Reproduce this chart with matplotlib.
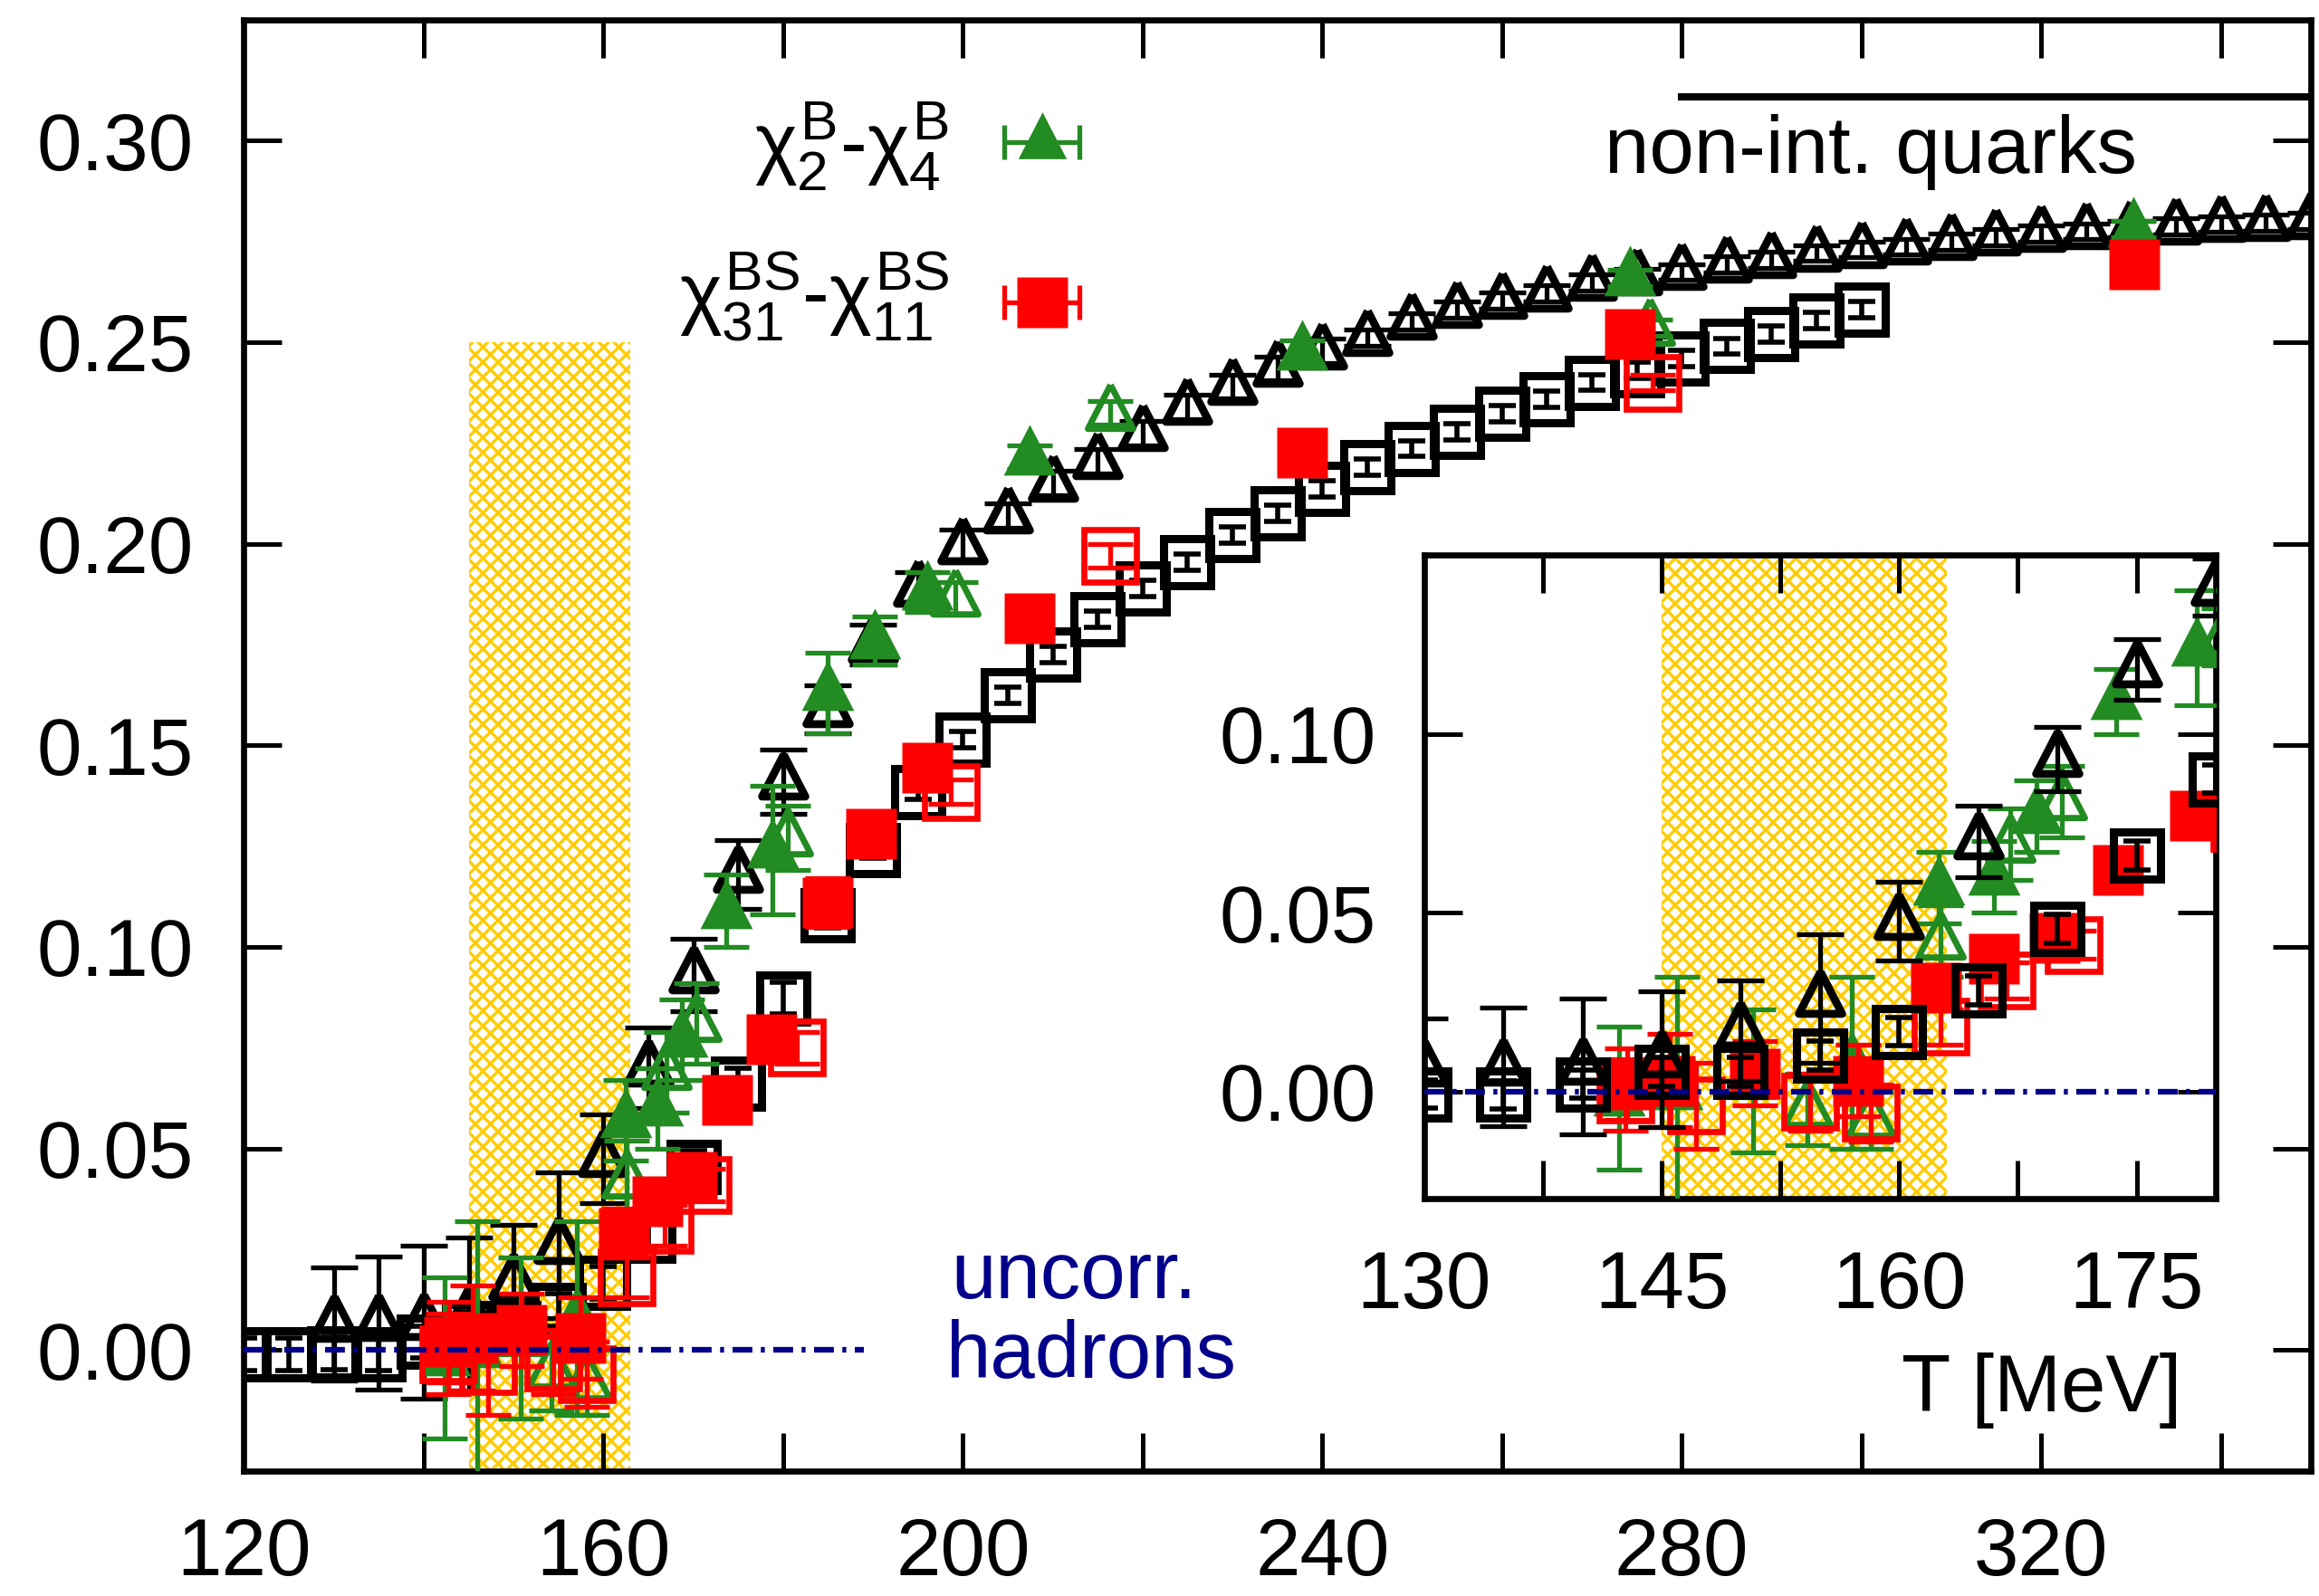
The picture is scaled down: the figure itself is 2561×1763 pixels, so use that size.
import numpy as np
import matplotlib
matplotlib.use('Agg')
import matplotlib.pyplot as plt
from matplotlib.markers import MarkerStyle
from matplotlib.ticker import FixedLocator, FormatStrFormatter

plt.rcParams['font.family'] = ['Liberation Sans', 'DejaVu Sans']
plt.rcParams['mathtext.fontset'] = 'custom'
plt.rcParams['mathtext.rm'] = 'Liberation Sans'
plt.rcParams['mathtext.it'] = 'Liberation Sans'
plt.rcParams['mathtext.bf'] = 'Liberation Sans:bold'
plt.rcParams['hatch.linewidth'] = 2.4

# ---------------- data ----------------
# chi2B - chi4B, black open triangles
tri_T = [130, 135, 140, 145, 150, 155, 160, 165, 170, 175, 180, 185, 190, 195, 200,
         205, 210, 215, 220, 225, 230, 235, 240, 245, 250, 255, 260, 265, 270, 275,
         280, 285, 290, 295, 300, 305, 310, 315, 320, 325, 330, 335, 340, 345, 350]
tri_val = [0.0065, 0.0068, 0.0070, 0.0090, 0.0170, 0.0260, 0.0475, 0.0700, 0.0930, 0.1180,
           0.1410, 0.1590, 0.1750, 0.1890, 0.1995, 0.2070, 0.2150, 0.2205, 0.2275, 0.2340,
           0.2390, 0.2435, 0.2478, 0.2512, 0.2552, 0.2580, 0.2603, 0.2621, 0.2648, 0.2662,
           0.2674, 0.2693, 0.2704, 0.2721, 0.2730, 0.2737, 0.2749, 0.2760, 0.2769, 0.2775,
           0.2780, 0.2788, 0.2793, 0.2797, 0.2801]
tri_err = [0.014, 0.0165, 0.019, 0.019, 0.014, 0.018, 0.011, 0.010, 0.009, 0.0085,
           0.008, 0.006, 0.005, 0.004, 0.004, 0.003, 0.003, 0.003, 0.003, 0.003,
           0.003, 0.003, 0.003, 0.002, 0.002, 0.002, 0.002, 0.002, 0.002, 0.002,
           0.002, 0.002, 0.002, 0.002, 0.002, 0.002, 0.002, 0.002, 0.002, 0.002,
           0.002, 0.002, 0.002, 0.002, 0.002]

# chi31BS - chi11BS, black open squares
sq_T = [120, 125, 130, 135, 140, 145, 150, 155, 160, 165, 170, 175, 180, 185, 190,
        195, 200, 205, 210, 215, 220, 225, 230, 235, 240, 245, 250, 255, 260, 265,
        270, 275, 280, 285, 290, 295, 300]
sq_val = [-0.0010, -0.0010, -0.0008, -0.0010, 0.0020, 0.0055, 0.0055, 0.0100, 0.0167, 0.0283,
          0.0455, 0.0660, 0.0873, 0.1078, 0.1240, 0.1385, 0.1515, 0.1625, 0.1725, 0.1813,
          0.1890, 0.1955, 0.2022, 0.2075, 0.2137, 0.2190, 0.2236, 0.2277, 0.2322, 0.2359,
          0.2400, 0.2430, 0.2460, 0.2490, 0.2520, 0.2554, 0.2580]
sq_err = [0.004, 0.004, 0.004, 0.004, 0.004, 0.004, 0.004, 0.004, 0.004, 0.004,
          0.004, 0.004, 0.004, 0.003, 0.002, 0.002, 0.002, 0.002, 0.002, 0.002,
          0.002, 0.002, 0.002, 0.002, 0.002, 0.002, 0.002, 0.002, 0.002, 0.002,
          0.002, 0.002, 0.002, 0.002, 0.002, 0.002, 0.002]

# lattice chi2B - chi4B, green filled triangles
gf_T = [142.3, 146.0, 157.0, 162.5, 166.0, 168.7, 173.7, 178.8, 185.0, 190.2, 196.0,
        207.4, 237.8, 274.2, 330.3]
gf_val = [-0.002, 0.000, 0.008, 0.057, 0.060, 0.077, 0.109, 0.124, 0.163, 0.176, 0.188,
          0.2215, 0.2475, 0.266, 0.278]
gf_err = [0.020, 0.032, 0.024, 0.010, 0.010, 0.010, 0.009, 0.016, 0.010, 0.006, 0.005,
          0.003, 0.003, 0.002, 0.002]

# lattice chi2B - chi4B, green open triangles
go_T = [150.8, 154.2, 158.2, 162.6, 167.0, 170.3, 180.5, 199.2, 216.4, 276.5]
go_val = [0.003, -0.005, -0.008, 0.042, 0.069, 0.081, 0.127, 0.1865, 0.2325, 0.2535]
go_err = [0.020, 0.010, 0.008, 0.010, 0.010, 0.010, 0.008, 0.004, 0.003, 0.002]

# lattice chi31BS - chi11BS, red filled squares
rf_T = [142.8, 145.5, 150.9, 157.4, 162.3, 166.0, 169.8, 173.8, 178.7, 185.0, 189.8,
        196.0, 207.4, 237.8, 274.2, 330.4]
rf_val = [0.002, 0.003, 0.005, 0.003, 0.029, 0.037, 0.043, 0.062, 0.077, 0.111, 0.128,
          0.1445, 0.1815, 0.2225, 0.252, 0.2694]
rf_err = [0.010, 0.013, 0.009, 0.010, 0.006, 0.005, 0.005, 0.005, 0.005, 0.006, 0.004,
          0.003, 0.002, 0.002, 0.002, 0.002]

# lattice chi31BS - chi11BS, red open squares
ro_T = [142.7, 147.2, 154.4, 158.2, 162.6, 166.8, 171.0, 181.5, 198.7, 216.4, 276.8]
ro_val = [-0.001, -0.004, -0.003, -0.006, 0.018, 0.031, 0.041, 0.075, 0.1385, 0.197, 0.240]
ro_err = [0.010, 0.012, 0.008, 0.008, 0.005, 0.005, 0.004, 0.004, 0.003, 0.003, 0.002]

# reference lines and band
hrg_T, hrg_val = [120, 189], [0.0, 0.0]
hrg_T_in = [130, 180]
sb_T, sb_val = [280, 350], [0.3108, 0.3108]
tc_band = [145, 163]

GREEN = '#228b22'
RED = '#ff0000'
NAVY = '#00008b'
GOLD = '#ffcc00'
FS = 64
DASHDOT = (3.5, 1.5, 0.7, 1.5)

# gnuplot-like triangle: point sits low in the triangle
tri = MarkerStyle([(0, 1.0), (-0.8, -0.55), (0.8, -0.55), (0, 1.0)], joinstyle='miter')


def draw_data(a, z_black, z_green, z_red):
    # black open triangles
    a.errorbar(tri_T, tri_val, yerr=tri_err, fmt='none', ecolor='k', elinewidth=3.8,
               capsize=19, capthick=3.8, zorder=z_black)
    a.plot(tri_T, tri_val, ls='none', marker=tri, ms=43, mfc='none', mec='k', mew=6.3,
           zorder=z_black)
    # black open squares
    a.errorbar(sq_T, sq_val, yerr=sq_err, fmt='none', ecolor='k', elinewidth=4.0,
               capsize=11, capthick=4.0, zorder=z_black)
    a.plot(sq_T, sq_val, ls='none', marker='s', ms=37, mfc='none', mec='k', mew=6.5,
           zorder=z_black)
    # green
    a.errorbar(go_T, go_val, yerr=go_err, fmt='none', ecolor=GREEN, elinewidth=3.8,
               capsize=18, capthick=3.8, zorder=z_green)
    a.plot(go_T, go_val, ls='none', marker=tri, ms=45, mfc='none', mec=GREEN, mew=5.0,
           zorder=z_green)
    a.errorbar(gf_T, gf_val, yerr=gf_err, fmt='none', ecolor=GREEN, elinewidth=3.8,
               capsize=18, capthick=3.8, zorder=z_green)
    a.plot(gf_T, gf_val, ls='none', marker=tri, ms=52, mfc=GREEN, mec='none',
           zorder=z_green)
    # red
    a.errorbar(ro_T, ro_val, yerr=ro_err, fmt='none', ecolor=RED, elinewidth=3.8,
               capsize=18, capthick=3.8, zorder=z_red)
    a.plot(ro_T, ro_val, ls='none', marker='s', ms=42, mfc='none', mec=RED, mew=4.8,
           zorder=z_red)
    a.errorbar(rf_T, rf_val, yerr=rf_err, fmt='none', ecolor=RED, elinewidth=3.8,
               capsize=18, capthick=3.8, zorder=z_red)
    a.plot(rf_T, rf_val, ls='none', marker='s', ms=41, mfc=RED, mec='none',
           zorder=z_red)


def style_axes(a, xpad, ypad):
    for s in a.spines.values():
        s.set_linewidth(4.8)
    a.tick_params(which='both', direction='in', length=30, width=3.6,
                  top=True, right=True, labelsize=FS)
    a.tick_params(axis='x', which='both', pad=xpad)
    a.tick_params(axis='y', which='both', pad=ypad)
    a.yaxis.set_major_formatter(FormatStrFormatter('%.2f'))


fig = plt.figure(figsize=(25.61, 17.63), dpi=100)

# ---------------- main panel ----------------
ax = fig.add_axes([0.1052, 0.0783, 0.8912, 0.9094])
ax.set_xlim(120, 350)
ax.set_ylim(-0.03, 0.33)

ax.fill_between(tc_band, -0.03, 0.25, facecolor='white', edgecolor=GOLD,
                hatch='xx', linewidth=0, zorder=1)
ax.plot(hrg_T, hrg_val, color=NAVY, lw=4.5, dashes=DASHDOT, zorder=8)
ax.plot(sb_T, sb_val, color='k', lw=5.8, zorder=2)
draw_data(ax, 3, 4, 5)

ax.xaxis.set_major_locator(FixedLocator([120, 160, 200, 240, 280, 320]))
ax.xaxis.set_minor_locator(FixedLocator([140, 180, 220, 260, 300, 340]))
ax.yaxis.set_major_locator(FixedLocator([0.0, 0.05, 0.10, 0.15, 0.20, 0.25, 0.30]))
style_axes(ax, 36, 40)

# legend drawn by hand (text right-aligned, key with horizontal error bar)
leg_x, leg_dx, leg_text_x = 208.8, 4.2, 198.5
ax.errorbar([leg_x], [0.2996], xerr=leg_dx, fmt='none', ecolor=GREEN, elinewidth=3.8,
            capsize=14, capthick=3.8, zorder=6)
ax.plot([leg_x], [0.2996], ls='none', marker=tri, ms=48, mfc=GREEN, mec='none', zorder=6)
ax.errorbar([leg_x], [0.2599], xerr=leg_dx, fmt='none', ecolor=RED, elinewidth=3.8,
            capsize=14, capthick=3.8, zorder=6)
ax.plot([leg_x], [0.2599], ls='none', marker='s', ms=40, mfc=RED, mec='none', zorder=6)
ax.text(leg_text_x, 0.2987, r'$\chi_{2}^{B}$-$\chi_{4}^{B}$', fontsize=FS,
        ha='right', va='center')
ax.text(leg_text_x, 0.2612, r'$\chi_{31}^{BS}$-$\chi_{11}^{BS}$', fontsize=FS,
        ha='right', va='center')

ax.text(330.7, 0.292, 'non-int. quarks', fontsize=FS, ha='right', va='baseline')
ax.text(198.7, 0.0129, 'uncorr.', fontsize=FS, color=NAVY, ha='left', va='baseline')
ax.text(198.1, -0.0069, 'hadrons', fontsize=FS, color=NAVY, ha='left', va='baseline')
ax.text(335.6, -0.0153, 'T [MeV]', fontsize=FS, ha='right', va='baseline', zorder=10)

# ---------------- inset ----------------
axi = fig.add_axes([0.6141, 0.2490, 0.3414, 0.4033])
axi.set_xlim(130, 180)
axi.set_ylim(-0.03, 0.15)
axi.fill_between(tc_band, -0.03, 0.15, facecolor='white', edgecolor=GOLD,
                 hatch='xx', linewidth=0, zorder=1)
axi.plot(hrg_T_in, [0.0, 0.0], color=NAVY, lw=4.5, dashes=DASHDOT, zorder=8)
draw_data(axi, 5, 3, 4)
axi.xaxis.set_major_locator(FixedLocator([130, 145, 160, 175]))
axi.xaxis.set_minor_locator(FixedLocator([137.5, 152.5, 167.5]))
axi.yaxis.set_major_locator(FixedLocator([0.0, 0.05, 0.10]))
style_axes(axi, 40, 38)

fig.savefig('out.png', dpi=100)
